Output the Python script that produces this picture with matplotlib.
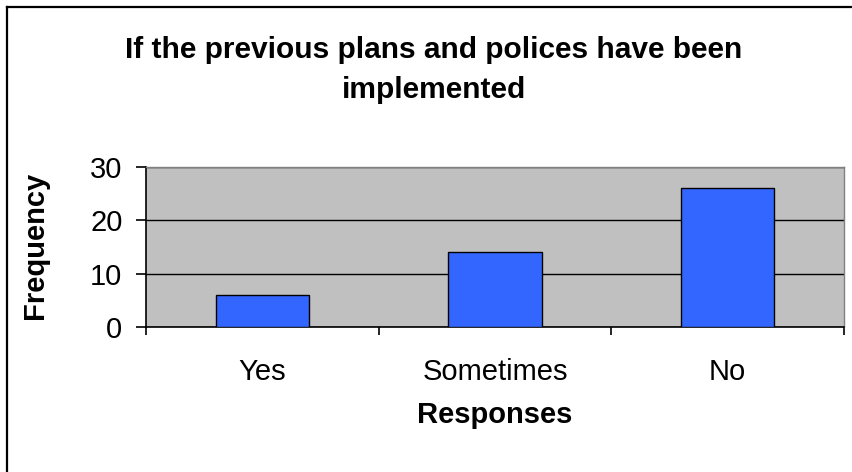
import matplotlib
matplotlib.use('Agg')
import matplotlib.pyplot as plt
from matplotlib.lines import Line2D

plt.rcParams['font.family'] = ['Liberation Sans', 'DejaVu Sans']

# chart data
categories = ['Yes', 'Sometimes', 'No']
frequency = [6, 14, 26]
y_ticks = [0, 10, 20, 30]

title = 'If the previous plans and polices have been\nimplemented'
x_label = 'Responses'
y_label = 'Frequency'

W, H = 853, 472
fig = plt.figure(figsize=(W / 100, H / 100), dpi=100)
fig.patch.set_facecolor('white')

# plot area in pixels: left 146, right 844, top 167, bottom 327
ax = fig.add_axes([146 / W, 1 - 327 / H, (844 - 146) / W, (327 - 167) / H])
ax.set_facecolor('#C0C0C0')

pos = list(range(len(categories)))
ax.bar(pos, frequency, width=0.4, color='#3366FF', edgecolor='black',
       linewidth=1.0, zorder=3)

ax.set_xlim(-0.5, len(categories) - 0.5)
ax.set_ylim(y_ticks[0], y_ticks[-1])
ax.set_yticks(y_ticks)
ax.yaxis.grid(True, color='black', linewidth=1.0, zorder=1)
ax.set_axisbelow(True)

# category labels centred, tick marks on the boundaries
ax.set_xticks([p + 0.5 for p in [-1] + pos])
ax.set_xticklabels([])
ax.set_xticks(pos, minor=True)
ax.set_xticklabels(categories, minor=True, fontsize=21)
ax.tick_params(axis='x', which='minor', length=0, pad=22)
ax.tick_params(axis='x', which='major', direction='out', length=6,
               width=1.2, color='black')
ax.tick_params(axis='y', direction='out', length=7, width=1.2,
               labelsize=21, pad=10)

for side in ['top', 'right']:
    ax.spines[side].set_color('#808080')
    ax.spines[side].set_linewidth(1.0)
for side in ['left', 'bottom']:
    ax.spines[side].set_color('black')
    ax.spines[side].set_linewidth(1.2)

fig.text(434 / W, 1 - 70 / H, title, ha='center', va='center',
         fontsize=21.5, fontweight='bold', linespacing=1.5)
fig.text(495 / W, 1 - 415 / H, x_label, ha='center', va='center',
         fontsize=21, fontweight='bold')
fig.text(35 / W, 1 - 245 / H, y_label, ha='center', va='center',
         rotation=90, fontsize=21, fontweight='bold')

# outer chart frame (only top and left edges fall inside the picture)
fig.add_artist(Line2D([7 / W, 7 / W], [0, 1 - 7 / H], color='black',
                      linewidth=1.6, transform=fig.transFigure))
fig.add_artist(Line2D([7 / W, 1], [1 - 7 / H, 1 - 7 / H], color='black',
                      linewidth=1.6, transform=fig.transFigure))

fig.savefig('out.png', dpi=100)
